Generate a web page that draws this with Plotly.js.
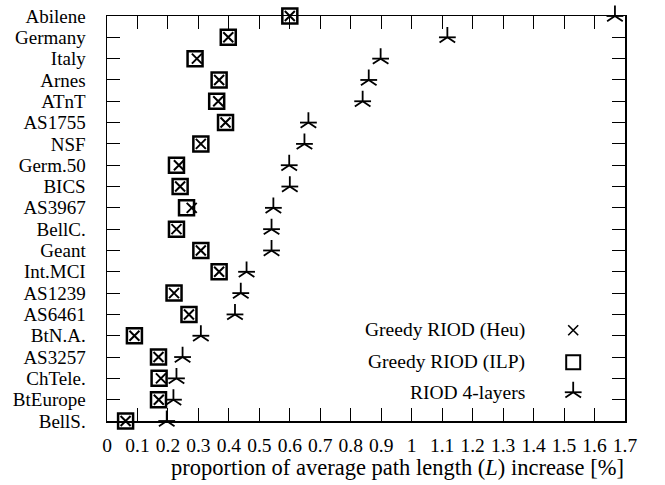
<!DOCTYPE html>
<html>
<head>
<meta charset="utf-8">
<script src="https://cdn.plot.ly/plotly-3.0.1.min.js"></script>
<style>html,body{margin:0;padding:0;background:#fff;}#chart{width:665px;height:485px;}</style>
</head>
<body>
<div id="chart"></div>
<script>
const networks = ["Abilene","Germany","Italy","Arnes","ATnT","AS1755","NSF","Germ.50","BICS","AS3967","BellC.","Geant","Int.MCI","AS1239","AS6461","BtN.A.","AS3257","ChTele.","BtEurope","BellS."];
const heuValues = [0.60,0.398,0.295,0.368,0.365,0.389,0.308,0.236,0.24,0.278,0.228,0.308,0.368,0.22,0.269,0.09,0.169,0.177,0.17,0.061];
const ilpValues = [0.60,0.398,0.289,0.368,0.36,0.389,0.308,0.228,0.24,0.261,0.228,0.308,0.368,0.22,0.269,0.09,0.169,0.171,0.169,0.061];
const layersValues = [1.667,1.117,0.898,0.859,0.839,0.661,0.648,0.598,0.60,0.546,0.54,0.54,0.458,0.439,0.42,0.308,0.248,0.228,0.218,0.196];
const legendNames = ["Greedy RIOD (Heu)","Greedy RIOD (ILP)","RIOD 4-layers"];
const xTickVals = [0,0.1,0.2,0.3,0.4,0.5,0.6,0.7,0.8,0.9,1,1.1,1.2,1.3,1.4,1.5,1.6,1.7];
const xTitle = "proportion of average path length (<i>L</i>) increase [%]";

const font = "Liberation Serif, Times New Roman, serif";
const traces = [
  {type:"scatter", mode:"markers", x:ilpValues, y:networks, cliponaxis:false, showlegend:false,
   marker:{symbol:"square-open", size:15, color:"#000", line:{width:2.5, color:"#000"}}},
  {type:"scatter", mode:"markers", x:heuValues, y:networks, cliponaxis:false, showlegend:false,
   marker:{symbol:"x-thin-open", size:10, color:"#000", line:{width:2, color:"#000"}}},
  {type:"scatter", mode:"markers", x:layersValues, y:networks, cliponaxis:false, showlegend:false,
   marker:{symbol:"y-up-open", size:13, color:"#000", line:{width:1.8, color:"#000"}}},
  {type:"scatter", mode:"markers", x:layersValues, y:networks, cliponaxis:false, showlegend:false,
   marker:{symbol:"line-ew-open", size:12, color:"#000", line:{width:1.8, color:"#000"}}}
];
// legend keys on overlay axis (paper-like coordinates)
const legX = [0.9,0.9,0.9];
const legY = [0.224,0.145,0.071];
const legSymbols = ["x-thin-open","square-open","y-up-open"];
const legSizes = [10,14,13];
const legWidths = [1.6,2,1.8];
for (let i=0;i<3;i++){
  traces.push({type:"scatter", mode:"markers", x:[legX[i]], y:[legY[i]], xaxis:"x2", yaxis:"y2", showlegend:false, cliponaxis:false,
    marker:{symbol:legSymbols[i], size:legSizes[i], color:"#000", line:{width:legWidths[i], color:"#000"}}});
}
traces.push({type:"scatter", mode:"markers", x:[legX[2]], y:[legY[2]], xaxis:"x2", yaxis:"y2", showlegend:false, cliponaxis:false,
    marker:{symbol:"line-ew-open", size:12, color:"#000", line:{width:1.8, color:"#000"}}});

const annotations = legendNames.map((t,i)=>({xref:"paper", yref:"paper", x:0.811, y:legY[i], xanchor:"right", yanchor:"middle",
  text:t, showarrow:false, font:{family:font, size:19.5, color:"#000"}}));
annotations.push({xref:"paper", yref:"paper", x:0.56, y:-0.115, xanchor:"center", yanchor:"middle",
  text:xTitle, showarrow:false, font:{family:font, size:22.5, color:"#000"}});

const layout = {
  width:665, height:485,
  margin:{l:107, r:40, t:16, b:64},
  paper_bgcolor:"#fff", plot_bgcolor:"#fff",
  showlegend:false,
  font:{family:font, size:19, color:"#000"},
  xaxis:{range:[0,1.7], tickmode:"array", tickvals:xTickVals, ticks:"inside", ticklen:13, tickwidth:1, tickcolor:"#000",
    showline:true, linecolor:"#000", linewidth:1.5, mirror:"ticks", showgrid:false, zeroline:false,
    tickfont:{family:font, size:19.5, color:"#000"}, ticklabelstandoff:6},
  yaxis:{type:"category", categoryorder:"array", categoryarray:networks, range:[19,0],
    tickmode:"array", tickvals:networks, ticktext:networks,
    ticks:"inside", ticklen:13, tickwidth:1, tickcolor:"#000",
    showline:true, linecolor:"#000", linewidth:1.5, mirror:"ticks", showgrid:false, zeroline:false,
    tickfont:{family:font, size:19, color:"#000"}, ticklabelstandoff:16},
  xaxis2:{overlaying:"x", range:[0,1], visible:false, fixedrange:true},
  yaxis2:{overlaying:"y", range:[0,1], visible:false, fixedrange:true},
  annotations:annotations
};
Plotly.newPlot("chart", traces, layout, {displayModeBar:false, staticPlot:true});
</script>
</body>
</html>
